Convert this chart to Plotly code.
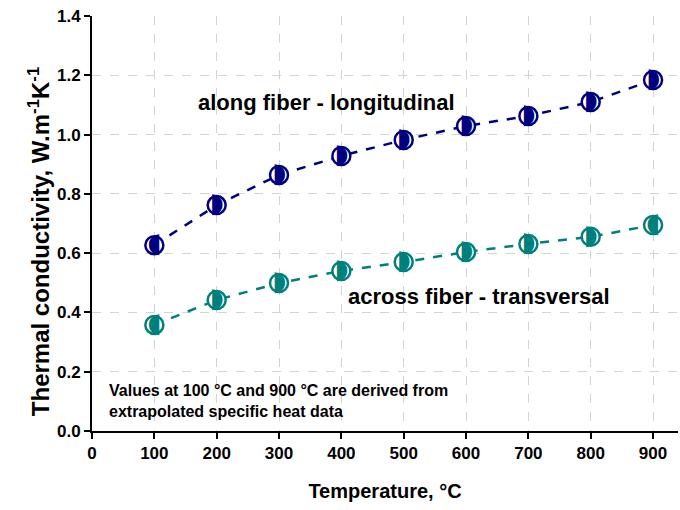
import plotly.graph_objects as go

temps = [100, 200, 300, 400, 500, 600, 700, 800, 900]
longitudinal = [0.627, 0.762, 0.864, 0.928, 0.982, 1.029, 1.063, 1.110, 1.184]
transversal = [0.358, 0.442, 0.499, 0.540, 0.570, 0.604, 0.631, 0.655, 0.695]
long_half = ["◖", "◗", "◗", "◗", "◗", "◗", "◗", "◗", "◗"]
trans_half = ["◖", "◗", "◗", "◗", "◗", "◗", "◗", "◗", "◖"]
x_ticks = [0, 100, 200, 300, 400, 500, 600, 700, 800, 900]
y_ticks = [0, 0.2, 0.4, 0.6, 0.8, 1.0, 1.2, 1.4]

NAVY = "#00007f"
TEAL = "#00807a"
FONT = "Liberation Sans"

fig = go.Figure()
for ys, col, halves in [(longitudinal, NAVY, long_half), (transversal, TEAL, trans_half)]:
    fig.add_trace(go.Scatter(
        x=temps, y=ys, mode="lines+markers",
        line=dict(color=col, width=2.5, dash="dash"),
        marker=dict(symbol="circle", size=18, color="white", line=dict(color=col, width=2.5)),
        showlegend=False, hoverinfo="skip"))
    fig.add_trace(go.Scatter(
        x=temps, y=ys, mode="text", text=halves,
        textfont=dict(family="DejaVu Sans", size=27, color=col),
        textposition="middle center", showlegend=False, hoverinfo="skip"))

fig.add_annotation(x=376, y=1.107, xref="x", yref="y", text="along fiber - longitudinal",
                   showarrow=False, font=dict(family=FONT, size=22, color="black", weight="bold"))
fig.add_annotation(x=621, y=0.455, xref="x", yref="y", text="across fiber - transversal",
                   showarrow=False, font=dict(family=FONT, size=22, color="black", weight="bold"))
fig.add_annotation(x=24, y=0.101, xref="x", yref="y", xanchor="left", align="left",
                   text="Values at 100 °C and 900 °C are derived from<br>extrapolated specific heat data",
                   showarrow=False, font=dict(family=FONT, size=16, color="black", weight="bold"))
# y-axis title
fig.add_annotation(x=0, xref="paper", xshift=-70, y=0.455, yref="paper", textangle=-90,
                   text="<b>Thermal conductivity, W.m<sup>-1</sup>K<sup>-1</sup></b>",
                   showarrow=False, font=dict(family=FONT, size=24, color="black"))

axis_common = dict(
    ticks="outside", ticklen=6, tickwidth=1.5, tickcolor="black",
    showline=True, linecolor="black", linewidth=2,
    showgrid=True, gridcolor="#d3d3d3", griddash="dash", gridwidth=1.2,
    zeroline=False,
    tickfont=dict(family=FONT, size=17, color="black", weight="bold"),
)
fig.update_layout(
    width=680, height=510,
    margin=dict(l=92, r=2, t=16, b=79),
    plot_bgcolor="white", paper_bgcolor="white",
    font=dict(family=FONT, color="black"),
    xaxis=dict(range=[0, 940], tickvals=x_ticks,
               ticktext=[f"<b>{v}</b>" for v in x_ticks],
               title=dict(text="<b>Temperature, °C</b>",
                          font=dict(family=FONT, size=20), standoff=22),
               **axis_common),
    yaxis=dict(range=[0, 1.4], tickvals=y_ticks,
               ticktext=[f"<b>{v:.1f}</b>" for v in y_ticks],
               **axis_common),
)
fig.write_html("out.html")
